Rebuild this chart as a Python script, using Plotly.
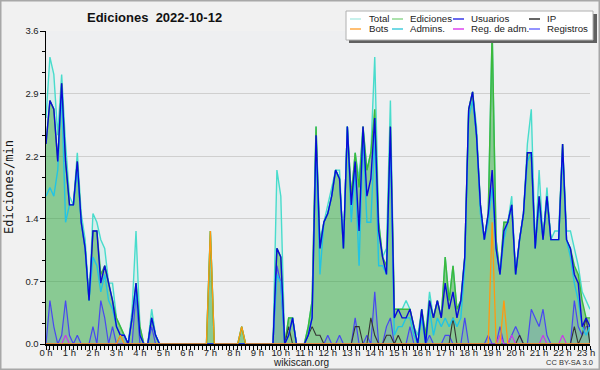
import plotly.graph_objects as go

# ---------------- data (10-minute steps from 00:00 to 23:10) ----------------
total = [
    2.6, 3.3, 3.1, 2.4, 3.1, 2.3, 1.7, 1.6, 2.2, 1.5,
    1.2, 0.5, 1.5, 1.4, 1.2, 1.1, 0.7, 0.7, 0.3, 0.2,
    0.1, 0.0, 0.4, 1.3, 0.2, 0.0, 0.0, 0.4, 0.1, 0.0,
    0.0, 0.0, 0.0, 0.0, 0.0, 0.0, 0.0, 0.0, 0.0, 0.0,
    0.0, 0.0, 1.3, 0.0, 0.0, 0.0, 0.0, 0.0, 0.0, 0.0,
    0.2, 0.0, 0.0, 0.0, 0.0, 0.0, 0.0, 0.0, 0.0, 2.0,
    1.7, 0.0, 0.3, 0.3, 0.0, 0.0, 0.0, 0.2, 0.5, 2.5,
    1.2, 1.4, 1.6, 1.8, 2.0, 2.0, 1.1, 2.5, 1.7, 2.2,
    1.9, 2.5, 2.0, 2.2, 3.3, 1.4, 1.0, 1.1, 2.8, 0.4,
    0.4, 0.4, 0.5, 0.4, 0.2, 0.1, 0.4, 0.1, 0.6, 0.3,
    0.5, 0.3, 1.0, 0.5, 0.9, 0.4, 0.5, 1.0, 2.7, 2.9,
    2.5, 1.6, 1.2, 1.5, 3.6, 1.2, 0.8, 1.4, 1.4, 1.7,
    0.8, 1.2, 1.5, 2.3, 2.7, 1.1, 2.0, 1.2, 1.8, 1.2,
    1.3, 1.3, 2.3, 1.3, 1.3, 1.1, 0.9, 0.6, 0.5, 0.4,
]
ediciones = [
    2.3, 2.8, 2.7, 2.1, 3.0, 2.1, 1.6, 1.6, 2.1, 1.4,
    1.1, 0.5, 1.3, 1.3, 0.8, 0.9, 0.7, 0.5, 0.3, 0.2,
    0.1, 0.0, 0.3, 0.7, 0.2, 0.0, 0.0, 0.3, 0.1, 0.0,
    0.0, 0.0, 0.0, 0.0, 0.0, 0.0, 0.0, 0.0, 0.0, 0.0,
    0.0, 0.0, 1.3, 0.0, 0.0, 0.0, 0.0, 0.0, 0.0, 0.0,
    0.2, 0.0, 0.0, 0.0, 0.0, 0.0, 0.0, 0.0, 0.0, 1.1,
    1.0, 0.0, 0.3, 0.3, 0.0, 0.0, 0.0, 0.2, 0.5, 2.5,
    1.1, 1.4, 1.5, 1.7, 2.0, 1.9, 1.1, 2.5, 1.7, 2.2,
    1.8, 2.5, 2.0, 2.2, 2.7, 1.4, 1.0, 0.9, 2.5, 0.4,
    0.4, 0.4, 0.4, 0.4, 0.2, 0.0, 0.4, 0.1, 0.5, 0.3,
    0.5, 0.3, 1.0, 0.5, 0.9, 0.4, 0.5, 1.0, 2.7, 2.9,
    2.4, 1.6, 1.2, 1.5, 3.6, 1.2, 0.8, 1.4, 1.4, 1.6,
    0.8, 1.2, 1.5, 2.2, 2.2, 1.1, 1.7, 1.2, 1.7, 1.2,
    1.2, 1.2, 2.3, 1.2, 1.1, 0.9, 0.8, 0.5, 0.3, 0.3,
]
usuarios = [
    2.3, 2.8, 2.7, 2.1, 3.0, 2.1, 1.6, 1.6, 2.1, 1.4,
    1.1, 0.5, 1.3, 1.3, 0.7, 0.9, 0.7, 0.5, 0.2, 0.1,
    0.1, 0.0, 0.3, 0.7, 0.1, 0.0, 0.0, 0.3, 0.1, 0.0,
    0.0, 0.0, 0.0, 0.0, 0.0, 0.0, 0.0, 0.0, 0.0, 0.0,
    0.0, 0.0, 0.0, 0.0, 0.0, 0.0, 0.0, 0.0, 0.0, 0.0,
    0.0, 0.0, 0.0, 0.0, 0.0, 0.0, 0.0, 0.0, 0.0, 1.1,
    1.0, 0.0, 0.1, 0.3, 0.0, 0.0, 0.0, 0.1, 0.3, 2.4,
    1.1, 1.4, 1.5, 1.7, 2.0, 1.9, 1.1, 2.5, 1.6, 2.1,
    1.3, 2.5, 1.7, 1.9, 2.6, 1.3, 1.0, 0.8, 2.5, 0.3,
    0.4, 0.3, 0.3, 0.4, 0.2, 0.0, 0.4, 0.0, 0.5, 0.3,
    0.5, 0.3, 0.7, 0.4, 0.6, 0.3, 0.5, 1.0, 2.7, 2.9,
    2.4, 1.6, 1.2, 1.5, 2.0, 1.1, 0.8, 1.3, 1.4, 1.6,
    0.8, 1.2, 1.5, 2.2, 2.2, 1.1, 1.7, 1.2, 1.7, 1.2,
    1.2, 1.2, 2.3, 1.2, 1.1, 0.8, 0.7, 0.2, 0.3, 0.2,
]
admins = [
    1.7, 1.8, 1.7, 2.0, 2.9, 1.4, 1.6, 1.6, 2.0, 1.4,
    1.1, 0.5, 1.0, 0.9, 0.6, 0.8, 0.5, 0.4, 0.2, 0.1,
    0.1, 0.0, 0.3, 0.6, 0.1, 0.0, 0.0, 0.3, 0.1, 0.0,
    0.0, 0.0, 0.0, 0.0, 0.0, 0.0, 0.0, 0.0, 0.0, 0.0,
    0.0, 0.0, 0.0, 0.0, 0.0, 0.0, 0.0, 0.0, 0.0, 0.0,
    0.0, 0.0, 0.0, 0.0, 0.0, 0.0, 0.0, 0.0, 0.0, 0.8,
    0.7, 0.0, 0.1, 0.3, 0.0, 0.0, 0.0, 0.1, 0.3, 2.3,
    0.8, 1.4, 1.5, 1.7, 2.0, 1.9, 1.1, 2.5, 1.4, 2.0,
    0.9, 2.4, 1.4, 1.4, 2.4, 0.9, 0.9, 0.8, 2.3, 0.1,
    0.2, 0.2, 0.3, 0.3, 0.1, 0.0, 0.3, 0.0, 0.4, 0.1,
    0.3, 0.2, 0.3, 0.2, 0.3, 0.2, 0.3, 0.9, 2.6, 2.8,
    2.4, 1.5, 1.2, 1.4, 1.8, 1.1, 0.8, 1.2, 1.4, 1.6,
    0.8, 1.2, 1.5, 2.1, 2.2, 1.1, 1.6, 1.2, 1.7, 1.2,
    1.2, 1.2, 2.2, 1.2, 1.0, 0.7, 0.5, 0.2, 0.1, 0.2,
]
registros = [
    0.0, 0.5, 0.2, 0.0, 0.1, 0.5, 0.1, 0.0, 0.1, 0.0,
    0.0, 0.0, 0.2, 0.0, 0.5, 0.3, 0.0, 0.2, 0.0, 0.1,
    0.1, 0.0, 0.0, 0.6, 0.0, 0.0, 0.0, 0.2, 0.0, 0.0,
    0.0, 0.0, 0.0, 0.0, 0.0, 0.0, 0.0, 0.0, 0.0, 0.0,
    0.0, 0.0, 0.0, 0.0, 0.0, 0.0, 0.0, 0.0, 0.0, 0.0,
    0.0, 0.0, 0.0, 0.0, 0.0, 0.0, 0.0, 0.0, 0.0, 0.9,
    0.7, 0.0, 0.0, 0.0, 0.0, 0.0, 0.0, 0.0, 0.0, 0.0,
    0.0, 0.0, 0.1, 0.0, 0.0, 0.1, 0.0, 0.0, 0.0, 0.3,
    0.0, 0.0, 0.1, 0.0, 0.6, 0.0, 0.0, 0.2, 0.3, 0.0,
    0.0, 0.0, 0.0, 0.2, 0.0, 0.0, 0.0, 0.0, 0.1, 0.0,
    0.0, 0.0, 0.1, 0.1, 0.0, 0.0, 0.0, 0.3, 0.0, 0.0,
    0.0, 0.0, 0.0, 0.1, 0.0, 0.0, 0.2, 0.0, 0.0, 0.1,
    0.2, 0.1, 0.0, 0.0, 0.4, 0.3, 0.2, 0.4, 0.1, 0.0,
    0.0, 0.0, 0.0, 0.0, 0.0, 0.5, 0.2, 0.1, 0.2, 0.2,
]
ip = [
    0.0, 0.0, 0.0, 0.0, 0.0, 0.0, 0.0, 0.0, 0.0, 0.0,
    0.0, 0.0, 0.0, 0.0, 0.0, 0.0, 0.0, 0.0, 0.0, 0.0,
    0.0, 0.0, 0.0, 0.0, 0.0, 0.0, 0.0, 0.0, 0.0, 0.0,
    0.0, 0.0, 0.0, 0.0, 0.0, 0.0, 0.0, 0.0, 0.0, 0.0,
    0.0, 0.0, 0.0, 0.0, 0.0, 0.0, 0.0, 0.0, 0.0, 0.0,
    0.0, 0.0, 0.0, 0.0, 0.0, 0.0, 0.0, 0.0, 0.0, 0.0,
    0.0, 0.0, 0.2, 0.0, 0.0, 0.0, 0.0, 0.1, 0.2, 0.1,
    0.1, 0.0, 0.0, 0.0, 0.0, 0.0, 0.0, 0.0, 0.0, 0.2,
    0.2, 0.0, 0.0, 0.3, 0.1, 0.0, 0.0, 0.1, 0.1, 0.0,
    0.1, 0.0, 0.0, 0.0, 0.0, 0.0, 0.0, 0.0, 0.0, 0.0,
    0.0, 0.0, 0.0, 0.0, 0.3, 0.0, 0.0, 0.0, 0.0, 0.0,
    0.0, 0.0, 0.0, 0.0, 0.0, 0.0, 0.0, 0.0, 0.0, 0.0,
    0.0, 0.1, 0.0, 0.0, 0.0, 0.0, 0.0, 0.0, 0.0, 0.0,
    0.0, 0.0, 0.0, 0.0, 0.0, 0.2, 0.0, 0.1, 0.3, 0.0,
]
bots = [
    0.0, 0.0, 0.0, 0.0, 0.0, 0.0, 0.0, 0.0, 0.0, 0.0,
    0.0, 0.0, 0.0, 0.0, 0.0, 0.0, 0.0, 0.0, 0.0, 0.1,
    0.0, 0.0, 0.0, 0.0, 0.0, 0.0, 0.0, 0.0, 0.0, 0.0,
    0.0, 0.0, 0.0, 0.0, 0.0, 0.0, 0.0, 0.0, 0.0, 0.0,
    0.0, 0.0, 1.3, 0.0, 0.0, 0.0, 0.0, 0.0, 0.0, 0.0,
    0.2, 0.0, 0.0, 0.0, 0.0, 0.0, 0.0, 0.0, 0.0, 0.0,
    0.0, 0.0, 0.0, 0.0, 0.0, 0.0, 0.0, 0.0, 0.0, 0.0,
    0.0, 0.0, 0.0, 0.0, 0.0, 0.0, 0.0, 0.0, 0.0, 0.0,
    0.0, 0.0, 0.0, 0.0, 0.0, 0.0, 0.0, 0.0, 0.0, 0.0,
    0.0, 0.0, 0.0, 0.0, 0.0, 0.0, 0.0, 0.0, 0.0, 0.0,
    0.0, 0.0, 0.0, 0.0, 0.0, 0.0, 0.0, 0.0, 0.0, 0.0,
    0.0, 0.0, 0.0, 0.0, 1.4, 0.0, 0.0, 0.5, 0.0, 0.0,
    0.0, 0.0, 0.0, 0.0, 0.0, 0.0, 0.0, 0.0, 0.0, 0.0,
    0.0, 0.0, 0.0, 0.0, 0.0, 0.0, 0.0, 0.0, 0.0, 0.0,
]
reg_adm = [
    0.0, 0.0, 0.0, 0.0, 0.0, 0.1, 0.0, 0.0, 0.0, 0.0,
    0.0, 0.0, 0.0, 0.0, 0.0, 0.0, 0.0, 0.0, 0.0, 0.0,
    0.0, 0.0, 0.0, 0.0, 0.0, 0.0, 0.0, 0.0, 0.0, 0.0,
    0.0, 0.0, 0.0, 0.0, 0.0, 0.0, 0.0, 0.0, 0.0, 0.0,
    0.0, 0.0, 0.0, 0.0, 0.0, 0.0, 0.0, 0.0, 0.0, 0.0,
    0.0, 0.0, 0.0, 0.0, 0.0, 0.0, 0.0, 0.0, 0.0, 0.0,
    0.0, 0.0, 0.0, 0.0, 0.0, 0.0, 0.0, 0.0, 0.0, 0.0,
    0.0, 0.0, 0.0, 0.0, 0.0, 0.0, 0.0, 0.0, 0.0, 0.0,
    0.0, 0.0, 0.0, 0.0, 0.0, 0.0, 0.0, 0.0, 0.0, 0.0,
    0.0, 0.0, 0.0, 0.0, 0.0, 0.0, 0.0, 0.0, 0.0, 0.0,
    0.0, 0.0, 0.0, 0.0, 0.0, 0.0, 0.0, 0.0, 0.0, 0.0,
    0.0, 0.0, 0.0, 0.0, 0.0, 0.0, 0.1, 0.0, 0.0, 0.1,
    0.0, 0.0, 0.0, 0.0, 0.0, 0.0, 0.0, 0.1, 0.0, 0.0,
    0.0, 0.0, 0.1, 0.0, 0.0, 0.0, 0.0, 0.0, 0.0, 0.0,
]

hour_ticks = list(range(24))
hour_labels = ["0 h", "1 h", "2 h", "3 h", "4 h", "5 h", "6 h", "7 h", "8 h",
               "9 h", "10 h", "11 h", "12 h", "13 h", "14 h", "15 h", "16 h",
               "17 h", "18 h", "19 h", "20 h", "21 h", "22 h", "23 h"]
y_ticks = [0.0, 0.72, 1.44, 2.16, 2.88, 3.6]
y_labels = ["0.0", "0.7", "1.4", "2.2", "2.9", "3.6"]

x = [i / 6 for i in range(len(total))]

# ---------------- figure ----------------
W, H = 600, 370
L, R, T, B = 46, 10, 31, 26
PW, PH = W - L - R, H - T - B


def px(xp):
    return (xp - L) / PW


def py(yp):
    return (H - B - yp) / PH


FONT = "Liberation Sans, Arial, sans-serif"

fig = go.Figure()

fig.add_trace(go.Scatter(x=x, y=total, mode="lines", fill="tozeroy",
                         fillcolor="rgba(64,224,208,0.12)",
                         line=dict(color="#48dccc", width=1.4)))
fig.add_trace(go.Scatter(x=x, y=ediciones, mode="lines", fill="tozeroy",
                         fillcolor="rgba(40,160,40,0.45)",
                         line=dict(color="#3cb83c", width=1.4)))
fig.add_trace(go.Scatter(x=x, y=registros, mode="lines", fill="tozeroy",
                         fillcolor="rgba(90,90,255,0.14)",
                         line=dict(color="#4848f0", width=1.2)))
fig.add_trace(go.Scatter(x=x, y=ip, mode="lines",
                         line=dict(color="#333333", width=1.1)))
fig.add_trace(go.Scatter(x=x, y=reg_adm, mode="lines",
                         line=dict(color="#cc33ee", width=1.1)))
fig.add_trace(go.Scatter(x=x, y=admins, mode="lines",
                         line=dict(color="#22c4e4", width=1.4)))
fig.add_trace(go.Scatter(x=x, y=usuarios, mode="lines",
                         line=dict(color="#0a0ad8", width=1.4)))
fig.add_trace(go.Scatter(x=x, y=bots, mode="lines",
                         line=dict(color="#ff9911", width=1.3)))

fig.update_traces(showlegend=False, hoverinfo="skip")

fig.update_layout(
    template="none",
    width=W, height=H,
    autosize=False,
    margin=dict(l=L, r=R, t=T, b=B, pad=0, autoexpand=False),
    paper_bgcolor="#f1f1f1",
    plot_bgcolor="#eeeff1",
    font=dict(family=FONT, size=10, color="#222"),
    showlegend=False,
    xaxis=dict(range=[0, x[-1]], tickmode="array", tickvals=hour_ticks,
               ticktext=hour_labels, ticks="outside", ticklen=4,
               tickwidth=1, automargin=False, ticklabelstandoff=-5,
               tickcolor="black", showline=True, linecolor="black",
               linewidth=1.5, showgrid=False, zeroline=False,
               tickfont=dict(size=9.5, family=FONT, color="#222"),
               minor=dict(dtick=1 / 6, tick0=0, ticks="outside", ticklen=4,
                          tickwidth=1, tickcolor="black", showgrid=False)),
    yaxis=dict(range=[0, 3.6], tickmode="array", tickvals=y_ticks,
               ticktext=y_labels, ticks="outside", ticklen=5,
               tickwidth=1, automargin=False, ticklabelstandoff=-1,
               tickcolor="black", showline=True, linecolor="black",
               linewidth=1.5, showgrid=True, gridcolor="#cfcfcf",
               gridwidth=1, zeroline=False,
               tickfont=dict(size=9.5, family=FONT, color="#222"),
               minor=dict(dtick=0.24, tick0=0, ticks="outside", ticklen=3,
                          tickwidth=1, tickcolor="black", showgrid=False)),
)

shapes = []
annotations = []

# outer frame
shapes.append(dict(type="rect", xref="paper", yref="paper",
                   x0=px(0.5), x1=px(W - 0.5), y0=py(H - 0.5), y1=py(0.5),
                   line=dict(color="#a8a8a8", width=2), layer="above"))

# title
annotations.append(dict(text="<b>Ediciones  2022-10-12</b>", xref="paper",
                        yref="paper", x=px(154), y=py(17), showarrow=False,
                        font=dict(size=13, family=FONT, color="#111"),
                        xanchor="center", yanchor="middle"))
# y-axis title
annotations.append(dict(text="Ediciones/min", xref="paper", yref="paper",
                        x=px(9), y=py(187), showarrow=False, textangle=-90,
                        font=dict(size=12, family="DejaVu Sans Mono, monospace",
                                  color="#111"),
                        xanchor="center", yanchor="middle"))
# footer
annotations.append(dict(text="wikiscan.org", xref="paper", yref="paper",
                        x=px(301), y=py(362), showarrow=False,
                        font=dict(size=10, family=FONT, color="#222"),
                        xanchor="center", yanchor="middle"))
annotations.append(dict(text="CC BY-SA 3.0", xref="paper", yref="paper",
                        x=px(569), y=py(362), showarrow=False,
                        font=dict(size=7.5, family=FONT, color="#333"),
                        xanchor="center", yanchor="middle"))

# legend (drawn manually)
shapes.append(dict(type="rect", xref="paper", yref="paper",
                   x0=px(349), x1=px(597), y0=py(43), y1=py(14),
                   fillcolor="#606060", line=dict(width=0), layer="above"))
shapes.append(dict(type="rect", xref="paper", yref="paper",
                   x0=px(346), x1=px(593), y0=py(40), y1=py(11),
                   fillcolor="white", line=dict(color="#b0b0b0", width=1),
                   layer="above"))
legend_items = [
    ("Total", "#b4ece6", 350, 367, 19),
    ("Ediciones", "#90d890", 392, 408, 19),
    ("Usuarios", "#3838e8", 453, 469, 19),
    ("IP", "#333333", 529, 545, 19),
    ("Bots", "#ffaa44", 350, 367, 29),
    ("Admins.", "#44ccdd", 392, 408, 29),
    ("Reg. de adm.", "#dd44ee", 453, 469, 29),
    ("Registros", "#7070ff", 529, 545, 29),
]
for name, col, lx, tx, ly in legend_items:
    shapes.append(dict(type="line", xref="paper", yref="paper",
                       x0=px(lx), x1=px(lx + 11), y0=py(ly), y1=py(ly),
                       line=dict(color=col, width=1.5), layer="above"))
    annotations.append(dict(text=name, xref="paper", yref="paper",
                            x=px(tx), y=py(ly), showarrow=False,
                            xanchor="left", yanchor="middle",
                            font=dict(size=9.7, family=FONT, color="#222")))

fig.update_layout(shapes=shapes, annotations=annotations)

fig.write_html("out.html",
               config={"displayModeBar": False, "staticPlot": True},
               post_script="document.body.style.margin='0';"
                           "document.body.style.padding='0';"
                           "document.body.style.overflow='hidden';")
